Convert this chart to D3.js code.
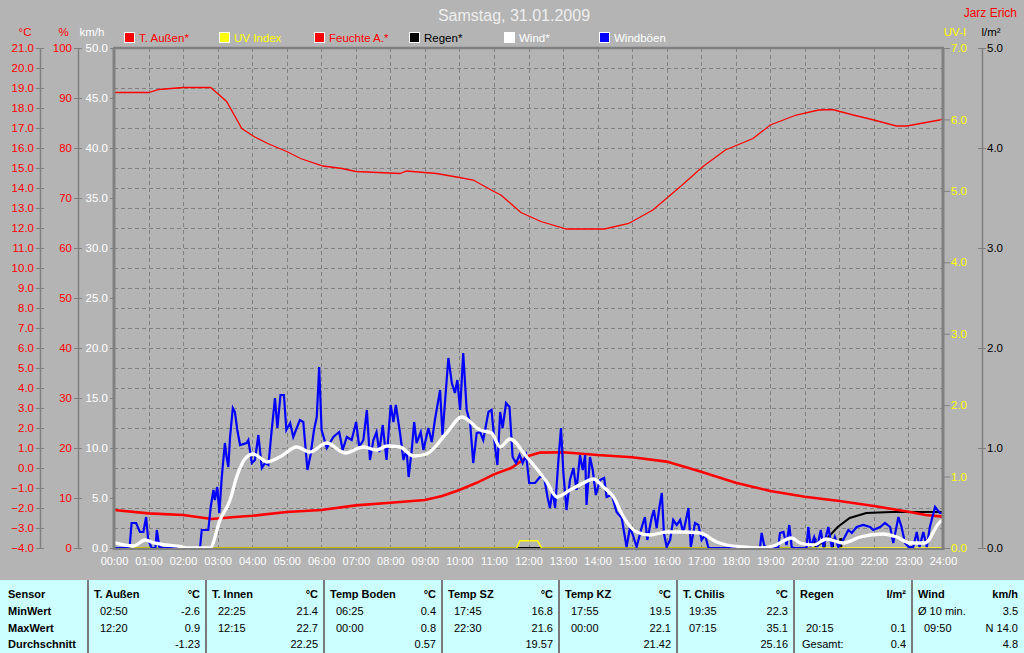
<!DOCTYPE html>
<html><head><meta charset="utf-8">
<script src="https://cdn.jsdelivr.net/npm/d3@7"></script>
<style>body{margin:0;background:#b4b4b4;} svg{display:block;font-family:"Liberation Sans",Arial,sans-serif;}</style>
</head><body><svg id="c" width="1024" height="653"></svg>
<script>
// ---------- DATA ----------
const titleText = "Samstag, 31.01.2009";
const authorText = "Jarz Erich";
const xTickLabels = ["00:00","01:00","02:00","03:00","04:00","05:00","06:00","07:00","08:00","09:00","10:00","11:00","12:00","13:00","14:00","15:00","16:00","17:00","18:00","19:00","20:00","21:00","22:00","23:00","24:00"];
const xTickHours = [0,1,2,3,4,5,6,7,8,9,10,11,12,13,14,15,16,17,18,19,20,21,22,23,24];
const tempTicks = [-4,-3,-2,-1,0,1,2,3,4,5,6,7,8,9,10,11,12,13,14,15,16,17,18,19,20,21];
const humTicks = [0,10,20,30,40,50,60,70,80,90,100];
const windTicks = [0,5,10,15,20,25,30,35,40,45,50];
const uvTicks = [0,1,2,3,4,5,6,7];
const rainTicks = [0,1,2,3,4,5];

const legendNames = ["T. Außen*","UV Index","Feuchte A.*","Regen*","Wind*","Windböen"];
const legendColors = ["#ff0000","#ffff00","#ff0000","#000000","#ffffff","#0000ff"];
const legendTextColors = ["#ff0000","#ffff00","#ff0000","#000000","#ffffff","#ffffff"];

// T. Außen (°C)
const tempHours = [0,1,2,2.83,3.5,4,5,6,7,8,9,9.5,10,10.5,11,11.5,12,12.33,13,14,15,16,17,18,19,20,21,22,23,23.5,24];
const tempValues = [-2.1,-2.27,-2.35,-2.55,-2.45,-2.39,-2.2,-2.1,-1.87,-1.74,-1.6,-1.4,-1.1,-0.74,-0.32,0.0,0.6,0.77,0.79,0.65,0.54,0.32,-0.19,-0.74,-1.15,-1.44,-1.65,-1.9,-2.19,-2.35,-2.43];

// Feuchte A. (%)
const humHours = [0,1.0,1.3,2.0,2.8,3.26,3.7,4.05,4.45,5.0,5.4,6.05,6.6,7.0,8.28,8.47,9.34,10.0,10.4,11.0,11.2,11.78,12.36,13.1,14.2,14.9,15.6,16.5,17.05,17.7,18.5,19.0,19.75,20.4,20.8,21.4,22.0,22.65,22.95,23.9,24];
const humValues = [91.1,91.1,91.7,92.1,92.1,89.3,83.9,82.3,80.9,79.3,77.9,76.4,75.9,75.3,74.9,75.4,74.9,74.1,73.6,71.3,70.6,67.1,65.3,63.8,63.8,64.9,67.6,72.9,76.3,79.6,81.9,84.6,86.6,87.6,87.7,86.6,85.6,84.4,84.4,85.6,85.8];

// UV Index
const uvHours = [0,11.66,11.75,12.26,12.38,24];
const uvValues = [0,0,0.1,0.1,0,0];

// Regen cumulative (l/m²) and interval bars
const rainHours = [0,20.26,20.6,20.95,21.3,21.78,22.5,24];
const rainValues = [0,0,0.08,0.21,0.30,0.35,0.36,0.36];
const rainBarHours = [20.29,20.56,20.8,21.04];
const rainBarValues = [0.1,0.05,0.1,0.1];

// Wind (km/h, 10-min average)
const windHours = [0,0.56,0.9,1.14,1.5,1.96,2.1,2.78,3.07,3.36,3.55,3.84,4.03,4.32,4.42,4.8,5.29,5.67,6.16,6.69,7.22,7.6,7.9,8.28,8.67,9.05,9.63,10.07,10.6,10.93,11.18,11.46,11.95,12.53,12.82,13.2,13.59,13.88,14.17,14.46,14.75,15.13,15.52,16.0,16.48,16.97,17.45,17.74,18.22,18.7,19.09,19.62,19.86,20.25,20.63,21.11,21.6,22.27,22.66,23.05,23.48,23.91,24];
const windValues = [0.53,0.2,0.8,0.53,0.3,0.13,0,0,2.8,4.8,7.1,9.1,9.4,8.8,8.6,9.1,10.1,9.6,10.5,9.5,10.1,9.8,10.2,10.1,9.2,9.4,11.5,13.1,11.8,11.5,10.1,10.9,9.1,6.6,5.1,5.8,6.5,6.9,6.1,5.1,3.1,1.6,1.3,1.6,1.6,1.5,0.6,0.3,0.1,0,0.2,1.0,0.5,0.3,0.9,0.5,1.1,1.4,1.1,0.5,0.5,2.6,2.8];

// Windböen (km/h)
const gustHours = [0,0.45,0.51,0.64,0.75,0.85,0.93,0.99,1.09,1.2,1.24,1.31,1.4,2.49,2.54,2.73,2.8,2.88,2.92,2.99,3.05,3.12,3.21,3.26,3.31,3.36,3.44,3.5,3.57,3.65,3.84,3.89,3.99,4.08,4.18,4.28,4.37,4.47,4.56,4.66,4.73,4.82,4.92,4.99,5.1,5.19,5.38,5.48,5.6,5.69,5.79,5.87,5.94,6.01,6.16,6.25,6.35,6.52,6.62,6.74,6.88,7.01,7.1,7.22,7.32,7.41,7.51,7.6,7.68,7.78,7.89,8.01,8.09,8.16,8.28,8.38,8.47,8.53,8.62,8.69,8.76,8.88,8.96,9.1,9.2,9.29,9.44,9.51,9.68,9.78,9.87,9.94,10.02,10.11,10.21,10.31,10.4,10.5,10.6,10.69,10.84,10.93,11.03,11.1,11.18,11.25,11.35,11.45,11.54,11.64,11.74,11.83,11.93,12.02,12.19,12.33,12.45,12.55,12.62,12.7,12.77,12.86,12.94,13.01,13.1,13.2,13.3,13.39,13.49,13.57,13.64,13.68,13.78,13.86,13.95,14.07,14.19,14.26,14.41,14.55,14.7,14.79,14.84,14.94,15.04,15.13,15.28,15.37,15.44,15.57,15.63,15.71,15.79,15.86,15.92,16.0,16.1,16.19,16.29,16.39,16.48,16.63,16.7,16.82,16.92,17.01,17.11,17.21,18.7,18.75,18.82,18.9,19.23,19.28,19.38,19.47,19.55,19.62,19.67,20.05,20.1,20.17,20.27,20.36,20.46,20.54,20.68,20.78,20.87,20.97,21.11,21.26,21.36,21.5,21.69,21.89,21.98,22.18,22.32,22.47,22.56,22.71,22.8,22.9,23.0,23.14,23.24,23.32,23.43,23.53,23.62,23.77,23.91,24];
const gustValues = [0,0,2.5,2.5,1.6,1.6,3.1,0.8,0,0,1.8,0.1,0,0,1.8,1.8,4.1,5.8,4.8,6.1,3.5,7.1,10.5,9.1,8.1,11.1,14.0,13.6,11.8,10.3,10.5,10.8,8.5,8.8,11.3,8.0,8.5,8.3,11.6,15.0,12.0,15.3,15.3,11.8,12.5,11.1,12.8,12.6,7.8,9.3,11.8,13.1,18.1,11.8,10.0,10.5,11.1,11.6,9.8,11.1,10.8,12.6,10.1,10.8,13.8,8.8,10.8,11.6,9.6,12.3,8.8,14.3,12.6,14.3,11.5,8.8,9.8,7.1,9.8,12.6,10.5,11.6,9.8,12.0,10.6,12.8,15.8,11.3,19.0,16.5,15.5,16.8,13.8,19.5,13.8,12.5,8.5,11.5,11.6,10.8,13.6,13.8,10.1,8.3,13.6,12.0,14.5,14.1,9.1,8.5,9.3,8.5,9.3,6.5,6.5,7.1,7.1,5.1,4.0,5.8,4.0,8.5,12.0,7.5,3.8,6.8,8.0,5.8,9.3,7.8,9.3,4.3,9.1,7.8,5.3,6.8,7.0,5.1,5.3,3.6,3.0,1.1,0.1,2.1,1.1,0.1,2.1,3.1,0.8,3.1,3.8,2.0,4.1,5.5,1.5,0.1,0.8,2.8,2.3,2.8,1.5,4.0,0.1,2.5,2.3,0.8,1.3,0,0,1.5,0.3,0,0,1.5,1.6,0.3,2.3,0.1,0,0,2.1,0.1,1.1,0.1,1.8,0.1,2.1,0.1,1.1,0.1,0.8,1.8,1.5,2.1,2.3,2.1,1.8,2.1,2.5,2.1,0.5,3.1,2.1,0.5,0.1,0.1,1.6,0.1,1.6,0.1,2.1,4.1,3.5,3.5];

// Table
const tableRowLabels = ["Sensor","MinWert","MaxWert","Durchschnitt"];
const tableCols = ["T. Außen","T. Innen","Temp Boden","Temp SZ","Temp KZ","T. Chilis","Regen","Wind"];
const tableUnits = ["°C","°C","°C","°C","°C","°C","l/m²","km/h"];
const minTimes = ["02:50","22:25","06:25","17:45","17:55","19:35","","Ø 10 min."];
const minVals = ["-2.6","21.4","0.4","16.8","19.5","22.3","","3.5"];
const maxTimes = ["12:20","12:15","00:00","22:30","00:00","07:15","20:15","09:50"];
const maxVals = ["0.9","22.7","0.8","21.6","22.1","35.1","0.1","N 14.0"];
const avgLabels = ["","","","","","","Gesamt:",""];
const avgVals = ["-1.23","22.25","0.57","19.57","21.42","25.16","0.4","4.8"];

// ---------- DRAW ----------
const svg = d3.select('#c');
const W = 1024, H = 653;
const L = 114, R = 943, T = 48, B = 548;
const gridCol = "#808080";
svg.append('rect').attr('width', W).attr('height', H).attr('fill', '#b4b4b4');

const x = d3.scaleLinear().domain([0, 24]).range([L, R]);
const yT = d3.scaleLinear().domain([-4, 21]).range([B, T]);
const yH = d3.scaleLinear().domain([0, 100]).range([B, T]);
const yW = d3.scaleLinear().domain([0, 50]).range([B, T]);
const yU = d3.scaleLinear().domain([0, 7]).range([B, T]);
const yR = d3.scaleLinear().domain([0, 5]).range([B, T]);

// grid
const grid = svg.append('g').attr('stroke', gridCol).attr('stroke-width', 1).attr('stroke-dasharray', '4,3');
grid.selectAll('line.h').data(tempTicks.slice(1, -1)).join('line')
  .attr('x1', L).attr('x2', R).attr('y1', d => Math.round(yT(d)) + 0.5).attr('y2', d => Math.round(yT(d)) + 0.5);
grid.selectAll('line.v').data(xTickHours.slice(1, -1)).join('line')
  .attr('y1', T).attr('y2', B).attr('x1', d => Math.round(x(d)) + 0.5).attr('x2', d => Math.round(x(d)) + 0.5);

// axes
function styleAxis(g, color, x1) {
  g.select('.domain').remove();
  g.selectAll('.tick line').attr('stroke', gridCol).attr('x1', x1);
  g.selectAll('.tick text').attr('fill', color).style('font-size', '11.5px').style('font-family', '"Liberation Sans",Arial,sans-serif');
}
const gT = svg.append('g').attr('transform', 'translate(40,0)')
  .call(d3.axisLeft(yT).tickValues(tempTicks).tickFormat(d3.format('.1f')).tickSize(4).tickPadding(2));
styleAxis(gT, '#ff0000', 4);
svg.append('line').attr('x1', 40.5).attr('x2', 40.5).attr('y1', T).attr('y2', B).attr('stroke', gridCol).attr('stroke-width', 1.5);

const gH = svg.append('g').attr('transform', 'translate(78,0)')
  .call(d3.axisLeft(yH).tickValues(humTicks).tickFormat(d3.format('d')).tickSize(4).tickPadding(2));
styleAxis(gH, '#ff0000', 4);
svg.append('line').attr('x1', 78.5).attr('x2', 78.5).attr('y1', T).attr('y2', B).attr('stroke', gridCol).attr('stroke-width', 1.5);

const gW = svg.append('g').attr('transform', `translate(${L},0)`)
  .call(d3.axisLeft(yW).tickValues(windTicks).tickFormat(d3.format('.1f')).tickSize(4).tickPadding(2));
styleAxis(gW, '#ffffff', 0);

const gU = svg.append('g').attr('transform', `translate(${R},0)`)
  .call(d3.axisRight(yU).tickValues(uvTicks).tickFormat(d3.format('.1f')).tickSize(7).tickPadding(1));
styleAxis(gU, '#ffff00', 0);

const gR = svg.append('g').attr('transform', 'translate(982,0)')
  .call(d3.axisRight(yR).tickValues(rainTicks).tickFormat(d3.format('.1f')).tickSize(4).tickPadding(1));
styleAxis(gR, '#000000', -4);
svg.append('line').attr('x1', 982.5).attr('x2', 982.5).attr('y1', T).attr('y2', B).attr('stroke', gridCol).attr('stroke-width', 1.5);

// axis headers
const hdr = [["°C", 25, '#ff0000'], ["%", 63.5, '#ff0000'], ["km/h", 92, '#ffffff'], ["UV-I", 955, '#ffff00'], ["l/m²", 991, '#000000']];
svg.selectAll('text.hdr').data(hdr).join('text').attr('class', 'hdr')
  .attr('x', d => d[1]).attr('y', 36).attr('text-anchor', 'middle').attr('fill', d => d[2])
  .style('font-size', '11.5px').text(d => d[0]);

// x labels
const gX = svg.append('g').attr('transform', `translate(0,${B})`)
  .call(d3.axisBottom(x).tickValues(xTickHours).tickFormat((d, i) => xTickLabels[i]).tickSize(0).tickPadding(9));
gX.select('.domain').remove();
gX.selectAll('.tick text').attr('fill', '#ffffff').style('font-size', '11px').style('font-family', '"Liberation Sans",Arial,sans-serif');

// series
const line = (xs, ys, sy) => d3.line().x((d, i) => x(xs[i])).y((d, i) => sy(ys[i]))(ys);

svg.append('path').attr('d', line(rainHours, rainValues, yR)).attr('fill', 'none').attr('stroke', '#000').attr('stroke-width', 2);
svg.selectAll('rect.rb').data(rainBarValues).join('rect').attr('class', 'rb')
  .attr('x', (d, i) => x(rainBarHours[i]) - 1.5).attr('width', 3)
  .attr('y', d => yR(d)).attr('height', d => yR(0) - yR(d)).attr('fill', '#000');
svg.append('path').attr('d', line(uvHours, uvValues, yU)).attr('fill', 'none').attr('stroke', '#ffff00').attr('stroke-width', 1.5);
svg.append('path').attr('d', line(humHours, humValues, yH)).attr('fill', 'none').attr('stroke', '#ff0000').attr('stroke-width', 1.3);
svg.append('path').attr('d', line(tempHours, tempValues, yT)).attr('fill', 'none').attr('stroke', '#ff0000').attr('stroke-width', 2.6);
svg.append('path').attr('d', line(gustHours, gustValues, yW)).attr('fill', 'none').attr('stroke', '#0000ff').attr('stroke-width', 2.2).attr('stroke-linejoin', 'miter');
svg.append('path').attr('d', line(windHours, windValues, yW).replace(/,/g, ',')).attr('fill', 'none').attr('stroke', '#ffffff').attr('stroke-width', 3.3)
  .attr('d', d3.line().curve(d3.curveMonotoneX).x((d, i) => x(windHours[i])).y(d => yW(d))(windValues));

// frame
svg.append('line').attr('x1', L - 1).attr('x2', R + 1).attr('y1', T).attr('y2', T).attr('stroke', gridCol).attr('stroke-width', 2.5);
svg.append('line').attr('x1', L - 1).attr('x2', R + 1).attr('y1', B + 1).attr('y2', B + 1).attr('stroke', gridCol).attr('stroke-width', 2);
svg.append('line').attr('x1', L).attr('x2', L).attr('y1', T).attr('y2', B + 2).attr('stroke', gridCol).attr('stroke-width', 3);
svg.append('line').attr('x1', R).attr('x2', R).attr('y1', T).attr('y2', B + 2).attr('stroke', gridCol).attr('stroke-width', 3);

// legend
const lg = svg.append('g');
legendNames.forEach((n, i) => {
  const lx = 124 + i * 95;
  lg.append('rect').attr('x', lx + 0.5).attr('y', 32.5).attr('width', 10).attr('height', 10)
    .attr('fill', legendColors[i]).attr('stroke', '#ffffff').attr('stroke-width', 1);
  lg.append('text').attr('x', lx + 15).attr('y', 42).attr('fill', legendTextColors[i]).style('font-size', '11.5px').text(n);
});

// title
svg.append('text').attr('x', 514).attr('y', 21).attr('text-anchor', 'middle').attr('fill', '#eeeeee').style('font-size', '16px').text(titleText);
svg.append('text').attr('x', 1017).attr('y', 17).attr('text-anchor', 'end').attr('fill', '#ff0000').style('font-size', '12px').text(authorText);

// table
const tY = 580;
svg.append('rect').attr('x', 0).attr('y', tY).attr('width', W).attr('height', H - tY).attr('fill', '#ccffff');
const colLeft = [88, 206, 324, 442, 559, 677, 794, 912];
const colRight = [206, 324, 442, 559, 677, 794, 912, 1024];
const rowY = [598, 615, 632, 648];
const tb = svg.append('g').style('font-size', '11px').attr('fill', '#000');
tableRowLabels.forEach((r, i) => tb.append('text').attr('x', 8).attr('y', rowY[i]).style('font-weight', 'bold').text(r));
colLeft.forEach((cl, i) => {
  tb.append('line').attr('x1', cl).attr('x2', cl).attr('y1', tY).attr('y2', H).attr('stroke', '#7a7a7a').attr('stroke-width', 2);
  const cr = colRight[i] - 6;
  tb.append('text').attr('x', cl + 6).attr('y', rowY[0]).style('font-weight', 'bold').text(tableCols[i]);
  tb.append('text').attr('x', cr).attr('y', rowY[0]).attr('text-anchor', 'end').style('font-weight', 'bold').text(tableUnits[i]);
  tb.append('text').attr('x', cl + (i === 7 ? 6 : 12)).attr('y', rowY[1]).text(minTimes[i]);
  tb.append('text').attr('x', cr).attr('y', rowY[1]).attr('text-anchor', 'end').text(minVals[i]);
  tb.append('text').attr('x', cl + 12).attr('y', rowY[2]).text(maxTimes[i]);
  tb.append('text').attr('x', cr).attr('y', rowY[2]).attr('text-anchor', 'end').text(maxVals[i]);
  tb.append('text').attr('x', cl + 8).attr('y', rowY[3]).text(avgLabels[i]);
  tb.append('text').attr('x', cr).attr('y', rowY[3]).attr('text-anchor', 'end').text(avgVals[i]);
});
</script>
</body></html>
